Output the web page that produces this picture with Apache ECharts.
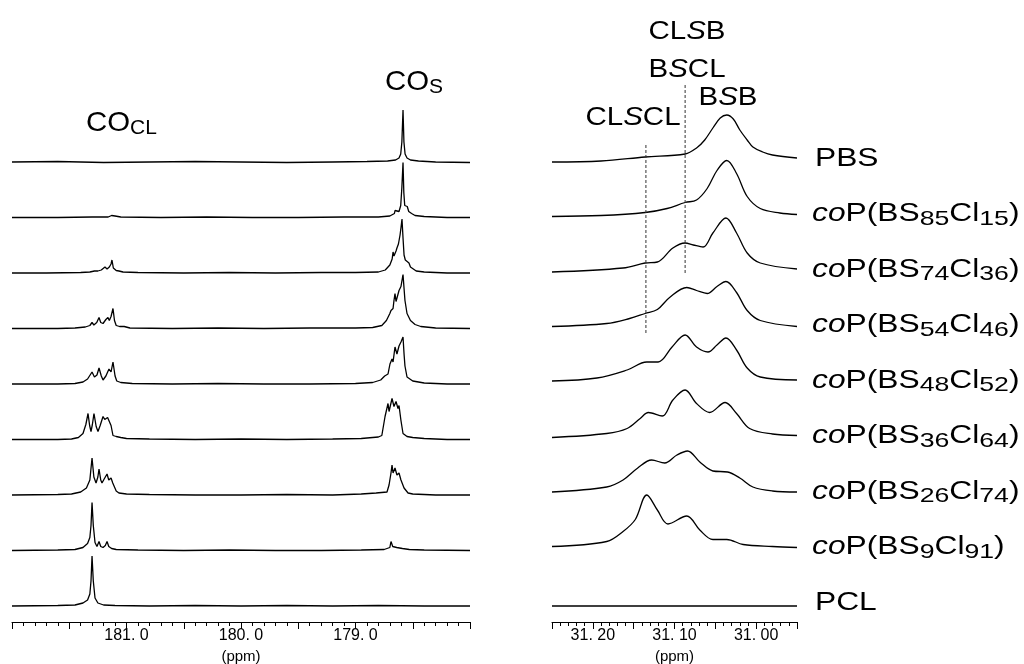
<!DOCTYPE html>
<html>
<head>
<meta charset="utf-8">
<script src="https://cdn.jsdelivr.net/npm/echarts@6/dist/echarts.min.js"></script>
<style>
  html, body { margin: 0; padding: 0; background: #fff; }
  #chart { width: 1024px; height: 664px; }
</style>
</head>
<body>
<div id="chart"></div>
<script>
  // sample rows, top to bottom
  const samples = ['PBS', 'BS85', 'BS74', 'BS54', 'BS48', 'BS36', 'BS26', 'BS9', 'PCL']
  const sampleLabels = [
    'PBS',
    '{i|co}P(BS{s|85}Cl{s|15})',
    '{i|co}P(BS{s|74}Cl{s|36})',
    '{i|co}P(BS{s|54}Cl{s|46})',
    '{i|co}P(BS{s|48}Cl{s|52})',
    '{i|co}P(BS{s|36}Cl{s|64})',
    '{i|co}P(BS{s|26}Cl{s|74})',
    '{i|co}P(BS{s|9}Cl{s|91})',
    'PCL'
  ]

  // carbonyl region, [ppm, intensity]
  const coPBS = [[182.0,0],[181.6,0.5],[181.2,-0.5],[180.8,0],[180.4,0.5],[180.0,0],[179.6,-0.5],[179.2,0],[178.9,0.5],[178.72,1],[178.65,2],[178.62,4],[178.605,8],[178.595,20],[178.585,52],[178.577,20],[178.567,8],[178.55,4],[178.52,2],[178.45,1],[178.3,0],[178.0,-0.5]]
  const coBS85 = [[182.0,0],[181.6,0],[181.3,0.5],[181.16,0.5],[181.13,2],[181.118,4],[181.10,1.5],[181.05,0.5],[180.7,0],[180.3,0.5],[179.9,0],[179.5,0],[179.1,0.5],[178.8,0.5],[178.7,1.5],[178.66,4],[178.655,7],[178.645,5],[178.62,6],[178.605,12],[178.595,30],[178.585,55],[178.578,25],[178.57,12],[178.56,10],[178.548,11],[178.535,6],[178.51,4],[178.48,2],[178.4,1],[178.2,0],[178.0,0]]
  const coBS74 = [[182.0,0],[181.7,0],[181.4,0.5],[181.32,1],[181.28,2],[181.266,4],[181.25,2],[181.22,3],[181.188,6],[181.17,4],[181.15,6],[181.135,9],[181.127,13],[181.115,5],[181.09,2.5],[181.066,2],[181.03,1],[180.9,0.5],[180.5,0],[180.1,0.5],[179.7,0],[179.3,0.5],[179.0,0.5],[178.8,1],[178.74,3],[178.70,8],[178.68,14],[178.672,21],[178.664,17],[178.655,16],[178.646,22],[178.638,25],[178.625,29],[178.611,38],[178.602,46],[178.594,54],[178.585,35],[178.576,18],[178.565,13],[178.55,11],[178.533,10],[178.52,6],[178.507,4],[178.47,2],[178.4,1],[178.2,0],[178.0,0]]
  const coBS54 = [[182.0,0],[181.6,0],[181.45,0.5],[181.36,1.5],[181.32,3],[181.301,6],[181.285,3.5],[181.26,6],[181.24,11],[181.225,6],[181.205,5],[181.18,9],[181.162,11],[181.15,8],[181.135,12],[181.118,20],[181.105,8],[181.09,3],[181.06,2],[181.02,2],[180.97,0.5],[180.6,0],[180.2,0.5],[179.8,0],[179.4,0.5],[179.0,0.5],[178.85,1],[178.77,3],[178.73,8],[178.70,15],[178.69,18],[178.681,20],[178.672,20],[178.664,28],[178.655,35],[178.646,27],[178.638,27],[178.62,38],[178.603,42],[178.594,48],[178.585,54],[178.576,40],[178.568,28],[178.55,15],[178.52,8],[178.48,4],[178.43,2],[178.3,0.5],[178.0,0]]
  const coBS48 = [[182.0,0],[181.6,0],[181.45,0.5],[181.38,2],[181.34,5],[181.301,12],[181.28,7],[181.258,9],[181.24,16],[181.22,8],[181.205,4],[181.18,8],[181.153,15],[181.135,12],[181.118,22],[181.10,8],[181.085,3],[181.05,1.5],[180.95,0.5],[180.6,0],[180.2,0.5],[179.8,0],[179.4,0],[179.0,0.5],[178.85,1.5],[178.78,4],[178.745,8],[178.716,10],[178.699,20],[178.681,25],[178.672,22],[178.655,37],[178.638,30],[178.62,38],[178.603,42],[178.585,47],[178.576,30],[178.568,18],[178.55,7],[178.5,3],[178.4,1],[178.2,0],[178.0,0]]
  const coBS36 = [[182.0,0],[181.6,0],[181.48,0.5],[181.42,2],[181.38,6],[181.355,15],[181.336,26],[181.322,14],[181.31,8],[181.298,15],[181.284,26],[181.265,13],[181.249,8],[181.23,14],[181.205,23],[181.19,20],[181.179,20],[181.165,22],[181.153,23],[181.135,14],[181.118,4],[181.09,3],[181.074,5],[181.05,2],[181.0,1],[180.8,0.5],[180.4,0],[180.0,0.5],[179.6,0],[179.2,0.5],[178.95,1],[178.85,2],[178.8,2.5],[178.77,4],[178.76,6],[178.742,23],[178.716,36],[178.707,28],[178.681,41],[178.664,33],[178.646,38],[178.629,31],[178.62,34],[178.603,19],[178.585,6],[178.55,3],[178.5,2],[178.4,1],[178.2,0],[178.0,0]]
  const coBS26 = [[182.0,0],[181.6,0.5],[181.48,1],[181.4,3],[181.35,7],[181.32,15],[181.301,37],[181.285,18],[181.266,12],[181.25,18],[181.24,26],[181.225,15],[181.214,12],[181.195,16],[181.17,21],[181.155,15],[181.135,17],[181.12,12],[181.109,11],[181.09,4],[181.066,2],[181.0,1],[180.8,0.5],[180.4,0],[180.0,0],[179.6,0.5],[179.2,0],[178.95,1],[178.82,2],[178.725,3],[178.707,10],[178.69,22],[178.681,30],[178.672,22],[178.655,27],[178.638,20],[178.62,22],[178.603,15],[178.576,7],[178.541,2],[178.5,1],[178.3,0],[178.0,0]]
  const coBS9 = [[182.0,0],[181.6,0.5],[181.45,1],[181.38,3],[181.34,7],[181.32,13],[181.31,25],[181.301,48],[181.29,25],[181.275,8],[181.258,4],[181.24,9],[181.225,4],[181.205,3],[181.185,5],[181.17,9],[181.155,4],[181.13,2],[181.09,1],[180.9,0.5],[180.5,0],[180.1,0.5],[179.7,0],[179.3,0],[178.95,0.5],[178.75,1],[178.70,3],[178.69,9],[178.675,4],[178.64,3],[178.59,2],[178.53,1],[178.4,0.5],[178.0,0]]
  const coPCL = [[182.0,0],[181.6,0.5],[181.45,1],[181.38,3],[181.34,6],[181.32,12],[181.31,25],[181.301,50],[181.29,25],[181.275,8],[181.25,3],[181.2,1],[181.1,0.5],[180.8,0],[180.4,0.5],[180.0,0],[179.6,0.5],[179.2,0],[178.8,0.5],[178.4,0],[178.0,0]]

  // methylene region, [ppm, intensity]
  const chPBS = [[31.25,0],[31.19,1],[31.136,5],[31.087,8],[31.073,14],[31.063,22],[31.053,34],[31.044,44],[31.036,47],[31.028,43],[31.02,32],[31.011,22],[31.004,15],[30.992,10],[30.98,7],[30.95,4]]
  const chBS85 = [[31.25,1],[31.19,2],[31.136,5],[31.109,9],[31.087,15],[31.073,17.5],[31.06,29],[31.048,47],[31.036,57],[31.024,44],[31.011,21],[30.995,9],[30.971,4.5],[30.95,3]]
  const chBS74 = [[31.25,1],[31.163,5],[31.136,10],[31.121,11],[31.102,25],[31.087,30],[31.077,28],[31.065,26],[31.053,40],[31.037,55],[31.024,40],[31.011,20],[30.995,10],[30.95,4]]
  const chBS54 = [[31.25,2],[31.183,5],[31.155,10],[31.136,15],[31.121,19],[31.106,31],[31.085,41],[31.073,38],[31.06,35],[31.048,42],[31.037,47],[31.024,36],[31.011,18],[30.995,8],[30.95,2]]
  const chBS48 = [[31.25,3],[31.195,6],[31.158,14],[31.134,22],[31.12,22],[31.103,37],[31.087,49],[31.073,37],[31.059,32],[31.048,39],[31.037,46],[31.024,34],[31.011,16],[30.995,7],[30.95,4]]
  const chBS36 = [[31.25,2],[31.183,6],[31.158,11],[31.142,21],[31.132,27],[31.115,23.5],[31.102,39.5],[31.087,49.5],[31.073,36],[31.057,27],[31.038,37],[31.024,26],[31.008,11],[30.98,5.5],[30.95,4]]
  const chBS26 = [[31.25,3],[31.183,8],[31.163,15],[31.145,27],[31.128,35],[31.112,32],[31.097,40],[31.084,44],[31.069,33],[31.053,24],[31.035,23],[31.02,17],[31.004,8],[30.98,4],[30.95,3]]
  const chBS9 = [[31.25,4],[31.183,9],[31.163,19],[31.148,31],[31.134,55.5],[31.121,40.5],[31.108,26.5],[31.085,34.5],[31.069,20.5],[31.053,11],[31.036,11],[31.016,6],[30.98,4],[30.95,3]]
  const chPCL = [[31.25,0],[31.15,0],[31.05,0],[30.95,0]]

  // dashed guides: [ppm, bottom, top] in the stacked intensity units
  const guideCLSCL = [31.135, 289, 479]
  const guideBSCL = [31.087, 349, 537]

  const coTraces = [coPBS, coBS85, coBS74, coBS54, coBS48, coBS36, coBS26, coBS9, coPCL]
  const chTraces = [chPBS, chBS85, chBS74, chBS54, chBS48, chBS36, chBS26, chBS9, chPCL]

  const FONT = 'Liberation Sans, Arial, sans-serif'
  const ROW = 55.5
  const BASE = 16
  const offset = i => BASE + (samples.length - 1 - i) * ROW

  const chart = echarts.init(document.getElementById('chart'))

  function axisX(gridIndex, min, max, interval, fmt) {
    return {
      type: 'value', gridIndex, min, max, interval, inverse: true,
      axisLine: { show: true, onZero: false, lineStyle: { color: '#000', width: 1 } },
      axisTick: { show: true, inside: false, length: 7, lineStyle: { color: '#000' } },
      minorTick: { show: true, splitNumber: 5, length: 4, lineStyle: { color: '#000' } },
      splitLine: { show: false },
      axisLabel: { formatter: fmt, color: '#000', fontSize: 16, fontFamily: FONT, margin: 6, showMinLabel: false, showMaxLabel: false },
      name: '(ppm)', nameLocation: 'middle', nameGap: 21,
      nameTextStyle: { color: '#000', fontSize: 15, fontFamily: FONT }
    }
  }

  const series = []
  coTraces.forEach((tr, i) => {
    series.push({
      type: 'line', xAxisIndex: 0, yAxisIndex: 0, symbol: 'none',
      lineStyle: { color: '#000', width: 1.3 },
      data: tr.map(p => [p[0], p[1] + offset(i)])
    })
  })
  chTraces.forEach((tr, i) => {
    series.push({
      type: 'line', xAxisIndex: 1, yAxisIndex: 1, symbol: 'none', smooth: 0.35,
      lineStyle: { color: '#000', width: 1.3 },
      data: tr.map(p => [p[0], p[1] + offset(i)])
    })
  })
  ;[guideCLSCL, guideBSCL].forEach(g => {
    series.push({
      type: 'line', xAxisIndex: 1, yAxisIndex: 1, symbol: 'none',
      lineStyle: { color: '#333', width: 1, type: [3, 2] },
      data: [[g[0], g[1]], [g[0], g[2]]]
    })
  })

  const rich = {
    i: { fontStyle: 'italic', fontSize: 25, fontFamily: FONT, lineHeight: 30 },
    s: { fontSize: 21, fontFamily: FONT, verticalAlign: 'bottom', lineHeight: 14 }
  }
  const richBig = {
    s: { fontSize: 20, fontFamily: FONT, verticalAlign: 'bottom', lineHeight: 14 }
  }
  const txt = (text, x, y, align, stretch, r, size) => ({
    type: 'text', x, y, scaleX: stretch,
    style: { text, fill: '#000', fontSize: size || 25, fontFamily: FONT, lineHeight: 30, align: align || 'left', verticalAlign: 'middle', rich: r || rich }
  })

  const graphics = [
    txt('CO{s|CL}', 86, 123, 'left', 1.05, richBig, 28),
    txt('CO{s|S}', 385, 82, 'left', 1.05, richBig, 28),
    txt('CL{i|S}B', 687, 32, 'center', 1.18),
    txt('B{i|S}CL', 687, 70, 'center', 1.18),
    txt('B{i|S}B', 728, 98, 'center', 1.18),
    txt('CL{i|S}CL', 633, 118, 'center', 1.18)
  ]
  sampleLabels.forEach((t, i) => {
    const x = (i === 0 || i === samples.length - 1) ? 815 : 812
    graphics.push(txt(t, x, 622 - offset(i) - 3, 'left', 1.27))
  })

  chart.setOption({
    animation: false,
    grid: [
      { left: 12, right: 554, top: 22, bottom: 42, outerBoundsMode: 'none' },
      { left: 552, right: 227, top: 22, bottom: 42, outerBoundsMode: 'none' }
    ],
    xAxis: [
      axisX(0, 178, 182, 0.5, v => {
        const r = Math.round(v * 10)
        return (r % 10 === 0 && r > 1780 && r < 1820) ? (r / 10).toFixed(1).replace('.', '. ') : ''
      }),
      axisX(1, 30.95, 31.25, 0.05, v => {
        const c = Math.round(v * 100)
        return c % 10 === 0 ? (c / 100).toFixed(2).replace('.', '. ') : ''
      })
    ],
    yAxis: [
      { type: 'value', gridIndex: 0, min: 0, max: 600, show: false },
      { type: 'value', gridIndex: 1, min: 0, max: 600, show: false }
    ],
    series,
    graphic: graphics
  })
</script>
</body>
</html>
